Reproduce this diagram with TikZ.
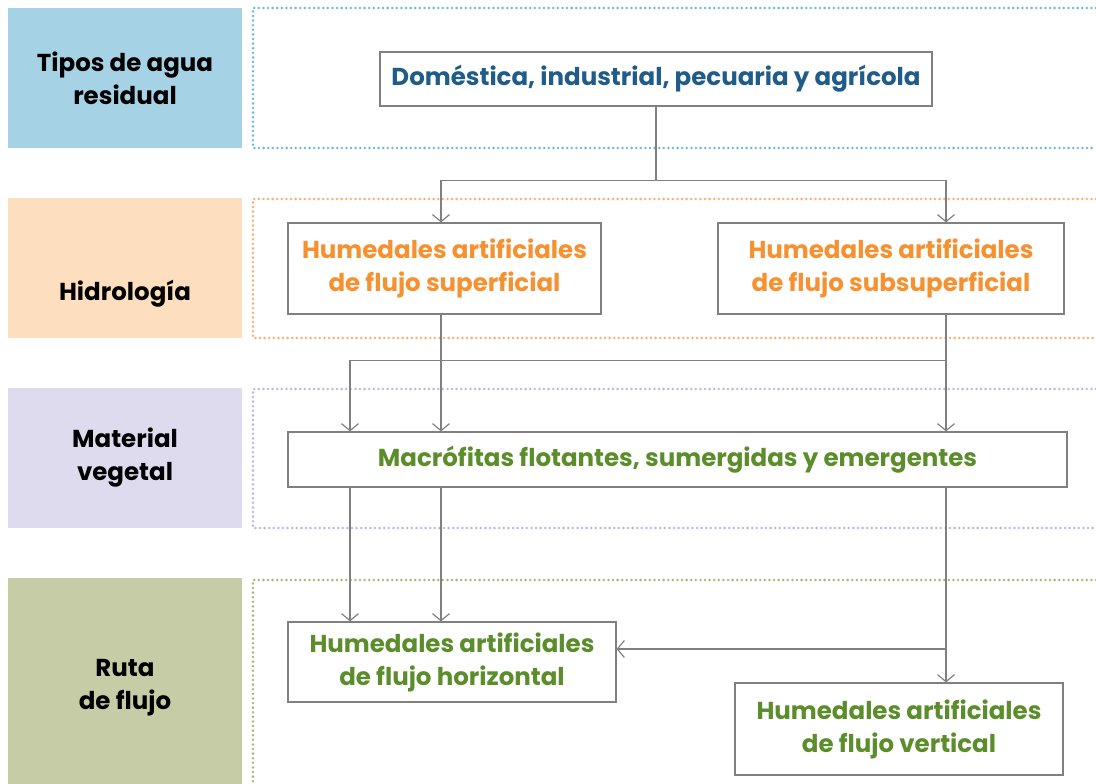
\documentclass[tikz,border=0pt]{standalone}
\usepackage{fontspec}
\setmainfont{Poppins}
\usetikzlibrary{arrows.meta}
\definecolor{azulF}{HTML}{A6D2E5}
\definecolor{naranjaF}{HTML}{FDDFBF}
\definecolor{moradoF}{HTML}{DFDBEE}
\definecolor{verdeF}{HTML}{C6CDA6}
\definecolor{azulP}{HTML}{6CB8DE}
\definecolor{naranjaP}{HTML}{F8AE74}
\definecolor{moradoP}{HTML}{BDB5E4}
\definecolor{verdeP}{HTML}{A7B67A}
\definecolor{azulT}{HTML}{1F5C8A}
\definecolor{naranjaT}{HTML}{F7902F}
\definecolor{verdeT}{HTML}{5B8E2B}
\definecolor{linea}{HTML}{808080}

\begin{document}
\begin{tikzpicture}[x=1pt,y=-1pt,
  font=\fontsize{24.5}{33}\selectfont\bfseries,
  etiqueta/.style={minimum width=234pt,align=center,inner sep=0pt},
  caja/.style={draw=linea,line width=1.2pt,fill=white,align=center,inner sep=0pt},
  punteado/.style={line width=2.8pt,line cap=round,dash pattern=on 0pt off 4.6pt},
  flecha/.style={draw=linea,line width=1.2pt,-{Straight Barb[length=7pt,width=17pt,line width=1.2pt]}}]
  \useasboundingbox (0,0) rectangle (1096,784);
  % bandas de la izquierda
  \node[etiqueta,fill=azulF,minimum height=140pt] (tipos) at (125,78) {Tipos de agua\\residual};
  \node[etiqueta,fill=naranjaF,minimum height=140pt] (hidro) at (125,268) {};
  \node (hidroT) at (125,294) {Hidrología};
  \node[etiqueta,fill=moradoF,minimum height=140pt] (mater) at (125,458) {Material\\vegetal};
  \node[etiqueta,fill=verdeF,minimum height=220pt] (ruta) at (125,688) {Ruta\\de flujo};
  % marcos punteados
  \draw[punteado,azulP] (1096,8) -- (253,8) -- (253,148) -- (1096,148);
  \draw[punteado,naranjaP] (1096,199) -- (253,199) -- (253,338) -- (1096,338);
  \draw[punteado,moradoP] (1096,389) -- (253,389) -- (253,528) -- (1096,528);
  \draw[punteado,verdeP] (1096,580) -- (253,580) -- (253,790);
  % cajas
  \node[caja,minimum width=552pt,minimum height=54pt,text=azulT] (tipo) at (656,79) {Doméstica, industrial, pecuaria y agrícola};
  \node[caja,minimum width=313pt,minimum height=91pt,text=naranjaT] (sup) at (444.5,268.5) {Humedales artificiales\\de flujo superficial};
  \node[caja,minimum width=346pt,minimum height=91pt,text=naranjaT] (subsup) at (891,268.5) {Humedales artificiales\\de flujo subsuperficial};
  \node[caja,minimum width=779pt,minimum height=55pt,text=verdeT] (macro) at (677.5,459.5) {Macrófitas flotantes, sumergidas y emergentes};
  \node[caja,minimum width=328pt,minimum height=80pt,text=verdeT] (horiz) at (452,662) {Humedales artificiales\\de flujo horizontal};
  \node[caja,minimum width=328pt,minimum height=92pt,text=verdeT] (vert) at (899,729) {Humedales artificiales\\de flujo vertical};
  \coordinate (xa) at (350,0);
  \coordinate (xb) at (441,0);
  \coordinate (xc) at (946,0);
  \coordinate (yh) at (0,649);
  % conectores
  \draw[flecha] (tipo.south) -- ++(0,74) -| (sup.north -| xb);
  \draw[flecha] (tipo.south) -- ++(0,74) -| (subsup.north -| xc);
  \draw[flecha] (sup.south -| xb) -- (macro.north -| xb);
  \draw[flecha] (subsup.south -| xc) -- (macro.north -| xc);
  \draw[flecha] (subsup.south -| xc) -- ++(0,46) -| (macro.north -| xa);
  \draw[flecha] (macro.south -| xa) -- (horiz.north -| xa);
  \draw[flecha] (macro.south -| xb) -- (horiz.north -| xb);
  \draw[flecha] (macro.south -| xc) -- (vert.north -| xc);
  \draw[flecha] (macro.south -| xc) |- (horiz.east |- yh);
\end{tikzpicture}
\end{document}
